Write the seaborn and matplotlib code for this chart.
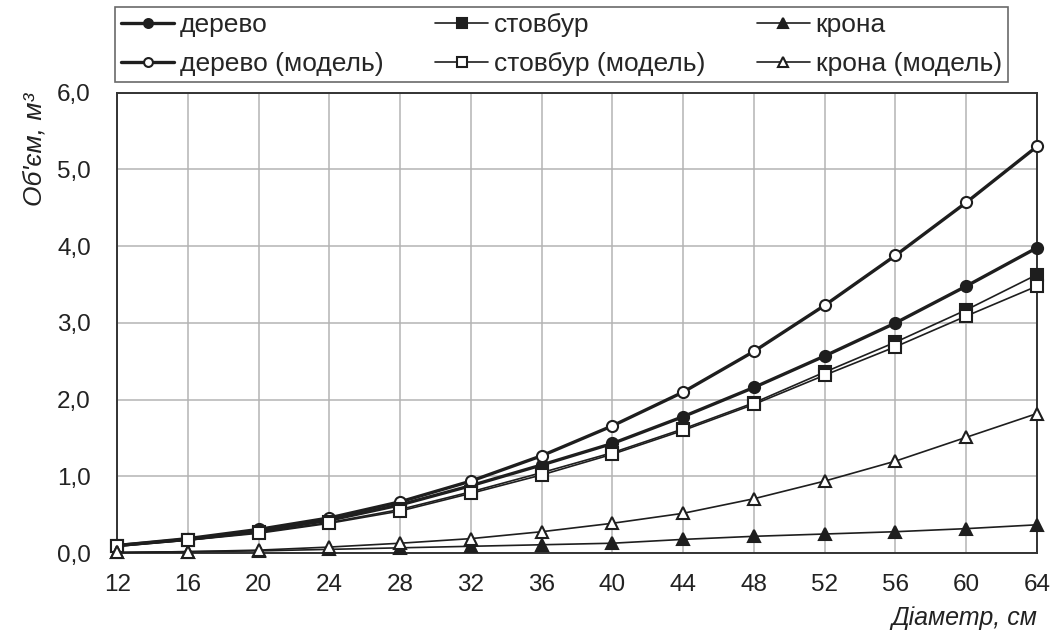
import numpy as np
import pandas as pd
import seaborn as sns
import matplotlib.pyplot as plt

# Діаметр, см
diametr = [12, 16, 20, 24, 28, 32, 36, 40, 44, 48, 52, 56, 60, 64]

# Об'єм, м3
derevo = [0.10, 0.18, 0.29, 0.43, 0.63, 0.88, 1.15, 1.43, 1.78, 2.16, 2.57, 3.00, 3.48, 3.98]
derevo_model = [0.10, 0.19, 0.31, 0.46, 0.67, 0.94, 1.27, 1.66, 2.10, 2.63, 3.23, 3.88, 4.57, 5.30]
stovbur = [0.09, 0.17, 0.27, 0.40, 0.57, 0.80, 1.05, 1.31, 1.62, 1.96, 2.36, 2.75, 3.17, 3.63]
stovbur_model = [0.10, 0.17, 0.26, 0.39, 0.55, 0.78, 1.02, 1.29, 1.60, 1.94, 2.32, 2.69, 3.09, 3.48]
krona = [0.01, 0.02, 0.03, 0.05, 0.07, 0.09, 0.11, 0.13, 0.18, 0.22, 0.25, 0.28, 0.32, 0.37]
krona_model = [0.01, 0.02, 0.04, 0.08, 0.13, 0.19, 0.28, 0.39, 0.52, 0.71, 0.94, 1.20, 1.51, 1.82]

y_ticks = [0, 1, 2, 3, 4, 5, 6]
y_labels = ["0,0", "1,0", "2,0", "3,0", "4,0", "5,0", "6,0"]

sns.set_theme(style="white")
plt.rcParams['font.family'] = ['Liberation Sans', 'DejaVu Sans']

fig = plt.figure(figsize=(10.56, 6.44), dpi=100)
ax = fig.add_axes([0.111, 0.141, 0.871, 0.715])

c = "#1e1e1e"
# назва, дані, маркер, заливка, товщина лінії, розмір маркера
series = [
    ("дерево", derevo, "o", c, 2.4, 8),
    ("дерево (модель)", derevo_model, "o", "white", 2.4, 8),
    ("стовбур", stovbur, "s", c, 1.2, 9),
    ("стовбур (модель)", stovbur_model, "s", "white", 1.2, 9),
    ("крона", krona, "^", c, 1.2, 8.5),
    ("крона (модель)", krona_model, "^", "white", 1.2, 8.5),
]

for name, vals, m, fc, lw, ms in series:
    sns.lineplot(x=diametr, y=vals, ax=ax, label=name, color=c, lw=lw,
                 marker=m, markersize=ms, markerfacecolor=fc,
                 markeredgecolor=c, markeredgewidth=1.5, clip_on=False, zorder=3)

ax.set_xlim(12, 64)
ax.set_ylim(0, 6)
ax.set_xticks(diametr)
ax.set_yticks(y_ticks)
ax.set_yticklabels(y_labels)
ax.grid(True, color="#b4b4b4", lw=1.1)
ax.tick_params(axis="both", length=0, labelsize=17.5, colors="#222222")
ax.tick_params(axis="x", pad=15)
ax.tick_params(axis="y", pad=19)
for s in ax.spines.values():
    s.set_color("#333333")
    s.set_linewidth(1.4)

ax.set_xlabel("Діаметр, см", fontsize=18, style="italic", color="#222222")
ax.xaxis.set_label_coords(1.0, -0.115)
ax.xaxis.label.set_horizontalalignment("right")
ax.set_ylabel("Об'єм, м³", fontsize=19, style="italic", color="#222222")
ax.yaxis.set_label_coords(-0.077, 1.0)
ax.yaxis.label.set_horizontalalignment("right")

leg = ax.legend(ncol=3, loc="lower left", bbox_to_anchor=(-0.002, 1.024, 0.97, 0.15),
                mode="expand", fontsize=19, frameon=True, fancybox=False,
                borderpad=0.22, labelspacing=0.55, handlelength=2.0,
                handletextpad=0.22, borderaxespad=0.0, columnspacing=1.0,
                markerscale=0.8)
leg.get_frame().set_edgecolor("#444444")
leg.get_frame().set_linewidth(1.2)

fig.savefig("out.png", dpi=100)
